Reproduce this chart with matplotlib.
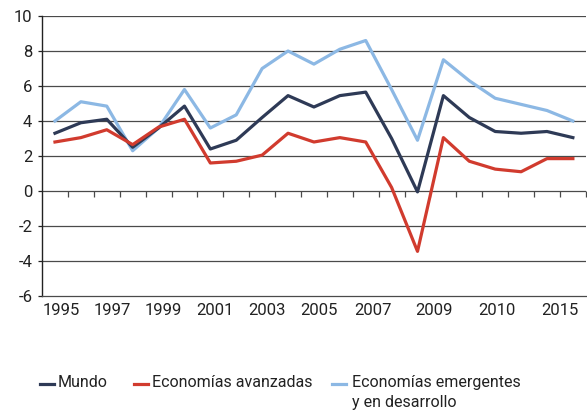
import matplotlib.pyplot as plt
from matplotlib.lines import Line2D

plt.rcParams['font.family'] = ['Roboto', 'DejaVu Sans']

years = list(range(1995, 2016))
mundo = [3.3, 3.9, 4.1, 2.5, 3.6, 4.85, 2.4, 2.9, 4.2, 5.45, 4.8, 5.45, 5.65, 3.0, -0.05,
         5.45, 4.2, 3.4, 3.3, 3.4, 3.05]
avanzadas = [2.8, 3.05, 3.5, 2.65, 3.65, 4.1, 1.6, 1.7, 2.05, 3.3, 2.8, 3.05, 2.8, 0.2, -3.45,
             3.05, 1.7, 1.25, 1.1, 1.85, 1.85]
emergentes = [4.0, 5.1, 4.85, 2.3, 3.6, 5.8, 3.6, 4.35, 7.0, 8.0, 7.25, 8.1, 8.6, 5.8, 2.9,
              7.5, 6.3, 5.3, 4.95, 4.6, 4.0]
xlabels = ['1995', '1997', '1999', '2001', '2003', '2005', '2007', '2009', '2010', '2015']
xlabel_pos = [0.23, 2.2, 4.2, 6.18, 8.19, 10.2, 12.28, 14.63, 17.08, 19.5]

c_mundo = '#2e3a56'
c_av = '#d13b2e'
c_em = '#8cb8e4'
grid_c = '#4a4a4a'

fig = plt.figure(figsize=(5.87, 4.19), dpi=100)
ax = fig.add_axes([0.0716, 0.2936, 0.9264, 0.6682])

x = list(range(len(years)))
ax.plot(x, emergentes, color=c_em, lw=2.3, zorder=3)
ax.plot(x, mundo, color=c_mundo, lw=2.3, zorder=4)
ax.plot(x, avanzadas, color=c_av, lw=2.3, zorder=5)

ax.set_xlim(-0.5, len(years) - 0.5)
ax.set_ylim(-6, 10)
yt = list(range(-6, 11, 2))
ax.set_yticks(yt)
ax.set_yticklabels([str(v) for v in yt])
for v in yt:
    if v not in (-6, 0):
        ax.axhline(v, color=grid_c, lw=0.9, zorder=1)
ax.axhline(0, color=grid_c, lw=0.9, zorder=2)

for s in ['top', 'right']:
    ax.spines[s].set_visible(False)
ax.spines['left'].set_color('#222222')
ax.spines['bottom'].set_color(grid_c)
ax.spines['left'].set_linewidth(1.0)
ax.spines['bottom'].set_linewidth(0.9)

ax.tick_params(axis='y', direction='out', length=3, width=0.9, color='#222222',
               labelsize=12, labelcolor='#222222', pad=4)
ax.set_xticks(xlabel_pos)
ax.set_xticklabels(xlabels)
ax.tick_params(axis='x', length=0, labelsize=12, labelcolor='#222222', pad=5)

# small ticks along the zero line at category boundaries
sec = ax.secondary_xaxis(6 / 16)
sec.set_xticks([i + 0.5 for i in range(len(years))])
sec.set_xticklabels([])
sec.tick_params(direction='out', length=4, width=0.9, color=grid_c)
sec.spines['bottom'].set_visible(False)

# legend
ly = 1 - 384 / 419
items = [(40, 58, c_mundo, 'Mundo'), (134, 152, c_av, 'Economías avanzadas'),
         (332, 352, c_em, 'Economías emergentes\ny en desarrollo')]
for x0, tx, col, lab in items:
    fig.add_artist(Line2D([x0 / 587, (x0 + 14) / 587], [ly, ly], color=col, lw=2.3,
                          transform=fig.transFigure))
    fig.text(tx / 587, ly + 0.0215, lab, fontsize=11.5, color='#222222', va='top', ha='left',
             linespacing=1.45)

fig.savefig('out.png', dpi=100)
